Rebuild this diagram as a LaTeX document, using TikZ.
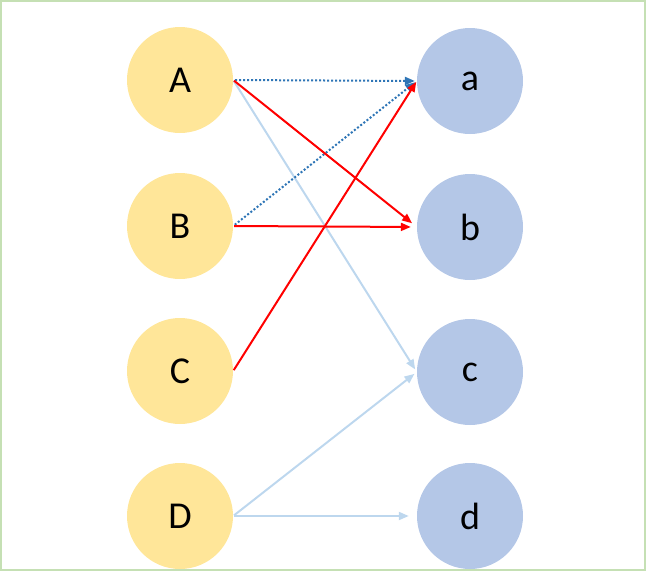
\documentclass[tikz,border=0pt]{standalone}
\usepackage{fontspec}
\setmainfont{Carlito}
\usetikzlibrary{arrows.meta}
\definecolor{frame}{HTML}{C5E0B4}
\definecolor{yel}{HTML}{FFE699}
\definecolor{blu}{HTML}{B4C7E7}
\definecolor{dblue}{HTML}{2E75B6}
\definecolor{lblue}{HTML}{BDD7EE}
\definecolor{rd}{HTML}{FF0000}
\begin{document}
\begin{tikzpicture}[x=1pt,y=-1pt,
  lnode/.style={circle,fill=yel,minimum size=106pt,inner sep=0pt,font=\fontsize{38}{40}\selectfont},
  rnode/.style={circle,fill=blu,minimum size=106pt,inner sep=0pt,font=\fontsize{38}{40}\selectfont},
  dotarrow/.style={draw=dblue,line width=2pt,dash pattern=on 2pt off 2pt,-{Triangle[length=10pt,width=8pt]},shorten >=2pt,shorten <=2pt},
  redarrow/.style={draw=rd,line width=2pt,-{Triangle[length=10pt,width=8pt]},shorten >=6pt,shorten <=1pt},
  larrow/.style={draw=lblue,line width=2pt,-{Triangle[length=10pt,width=8pt]},shorten >=3pt,shorten <=1pt}]
\useasboundingbox (0,0) rectangle (646,571);
\draw[frame,line width=2pt] (1,1) rectangle (645,570);
\node[lnode] (A) at (180,80) {A};
\node[lnode] (B) at (180,226) {B};
\node[lnode] (C) at (180,371) {C};
\node[lnode] (D) at (180,516) {D};
\node[rnode] (a) at (470,81) {a};
\node[rnode] (b) at (470,227) {b};
\node[rnode] (c) at (470,372) {c};
\node[rnode] (d) at (470,516) {d};
\draw[larrow] (A.east) -- (c.west);
\draw[larrow] (D.east) -- (c.west);
\draw[larrow,shorten >=8pt] (D.east) -- (d.west);
\draw[dotarrow] (A.east) -- (a.west);
\draw[dotarrow] (B.east) -- (a.west);
\draw[redarrow] (A.east) -- (b.west);
\draw[redarrow] (B.east) -- (b.west);
\draw[redarrow,shorten >=1pt] (C.east) -- (a.west);
\end{tikzpicture}
\end{document}
